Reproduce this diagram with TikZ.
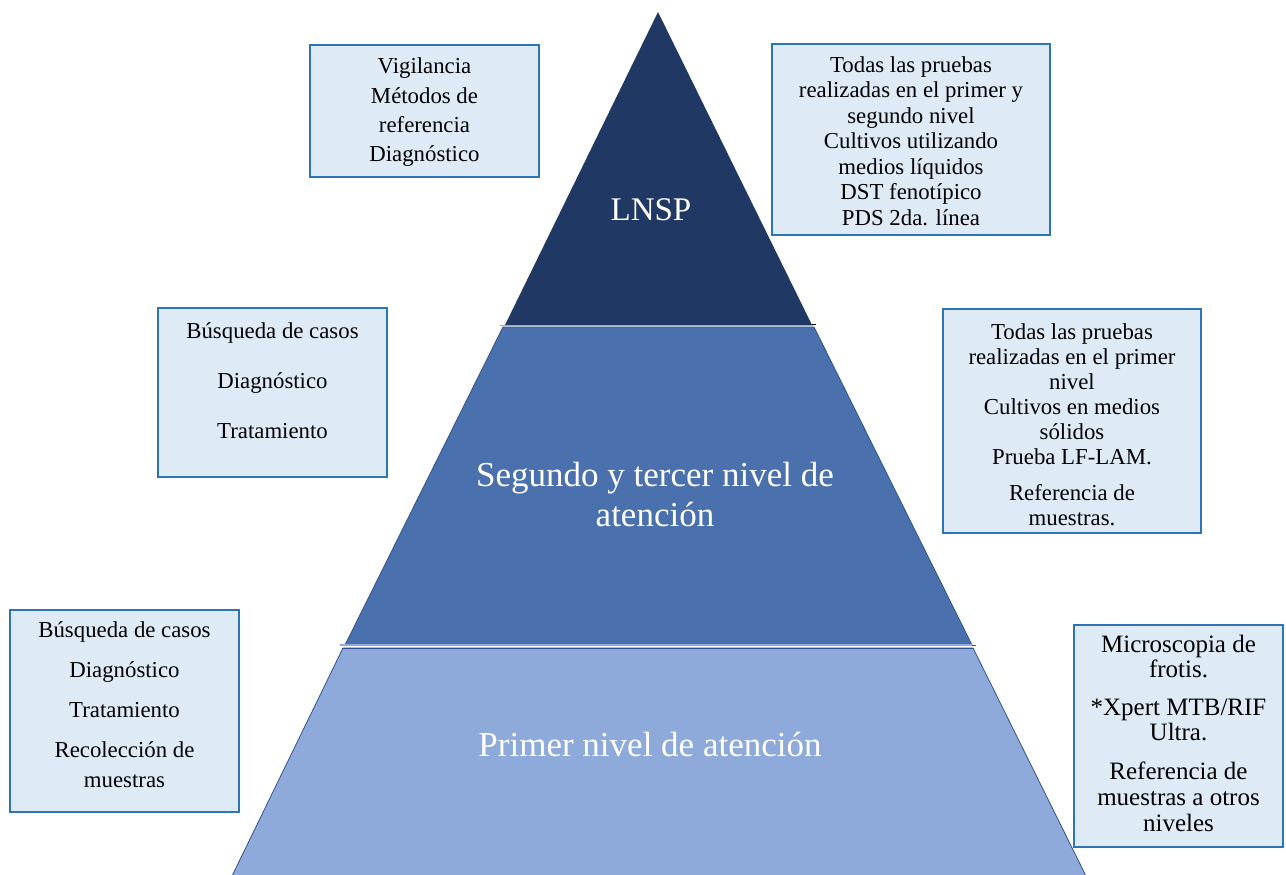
\documentclass[tikz,border=0pt]{standalone}
\usepackage{fontspec}
\setmainfont{Liberation Serif}
\definecolor{tierA}{HTML}{203864}
\definecolor{tierB}{HTML}{4A70AE}
\definecolor{tierC}{HTML}{8EAADB}
\definecolor{tierline}{HTML}{2F528F}
\definecolor{lightline}{HTML}{8FAADC}
\definecolor{boxfill}{HTML}{DEEBF7}
\definecolor{boxdraw}{HTML}{2E75B6}
\tikzset{
  infobox/.style={draw=boxdraw, fill=boxfill, line width=1.6pt},
  txt/.style={anchor=base, inner sep=0pt, font=\fontsize{22.8}{25}\selectfont},
  txtb/.style={anchor=base, inner sep=0pt, font=\fontsize{25}{26}\selectfont},
  tierlabel/.style={anchor=base, inner sep=0pt, text=white, font=\fontsize{35}{38}\selectfont},
}
\begin{document}
\begin{tikzpicture}[x=1pt,y=-1pt]
\useasboundingbox (0,0) rectangle (1286,875);
\fill[white] (0,0) rectangle (1286,875);
% pyramid tiers
\coordinate (apex) at (658,12);
\coordinate (aL) at (505,325);
\coordinate (aR) at (812,325);
\coordinate (bL) at (503,327);
\coordinate (bR) at (814,327);
\coordinate (bLL) at (345,645);
\coordinate (bRR) at (972,645);
\coordinate (cL) at (343,648);
\coordinate (cR) at (973,648);
\coordinate (cLL) at (232,876);
\coordinate (cRR) at (1086,876);
\fill[tierC, draw=tierline, line width=0.8pt] (cL) -- (cR) -- (cRR) -- (cLL) -- cycle;
\fill[tierB, draw=tierline, line width=0.8pt] (bL) -- (bR) -- (bRR) -- (bLL) -- cycle;
\fill[tierA] (apex) -- (aR) -- (aL) -- cycle;
% separators
\draw[lightline, line width=1.6pt] (500,325.5) -- (813,325.5);
\draw[black, line width=0.8pt] (812,324.5) -- (816,324.5);
\draw[lightline, line width=1.5pt] (340,645) -- (972,645);
\draw[tierline, line width=1.6pt] (342,648.5) -- (973,648.5);
\draw[tierline, line width=0.8pt] (972,645) -- (976,645);
% tier labels
\node[tierlabel, font=\fontsize{33}{38}\selectfont] (lnsp) at (651,220) {LNSP};
\node[tierlabel] (seg1) at (655,486) {Segundo y tercer nivel de};
\node[tierlabel] (seg2) at (655,526) {atención};
\node[tierlabel] (prim) at (650,756) {Primer nivel de atención};
% box 1
\draw[infobox] (310,45) rectangle (539,177);
\node[txt] (b1a) at (424.5,74) {Vigilancia};
\node[txt] (b1b) at (424.5,103) {Métodos de};
\node[txt] (b1c) at (424.5,132) {referencia};
\node[txt] (b1d) at (424.5,161) {Diagnóstico};
% box 2
\draw[infobox] (772,44) rectangle (1050,235);
\node[txt] (b2a) at (911,73) {Todas las pruebas};
\node[txt] (b2b) at (911,98) {realizadas en el primer y};
\node[txt] (b2c) at (911,123) {segundo nivel};
\node[txt] (b2d) at (911,148.5) {Cultivos utilizando};
\node[txt] (b2e) at (911,174) {medios líquidos};
\node[txt] (b2f) at (911,199.5) {DST fenotípico};
\node[txt] (b2g) at (911,225) {PDS 2da. línea};
% box 3
\draw[infobox] (158,308) rectangle (387,477);
\node[txt] (b3a) at (272.5,338) {Búsqueda de casos};
\node[txt] (b3b) at (272.5,388) {Diagnóstico};
\node[txt] (b3c) at (272.5,438) {Tratamiento};
% box 4
\draw[infobox] (943,309) rectangle (1201,533);
\node[txt] (b4a) at (1072,339) {Todas las pruebas};
\node[txt] (b4b) at (1072,364) {realizadas en el primer};
\node[txt] (b4c) at (1072,389) {nivel};
\node[txt] (b4d) at (1072,414) {Cultivos en medios};
\node[txt] (b4e) at (1072,439) {sólidos};
\node[txt] (b4f) at (1072,464) {Prueba LF-LAM.};
\node[txt] (b4g) at (1072,500) {Referencia de};
\node[txt] (b4h) at (1072,525) {muestras.};
% box 5
\draw[infobox] (10,610) rectangle (239,812);
\node[txt] (b5a) at (124.5,637) {Búsqueda de casos};
\node[txt] (b5b) at (124.5,677) {Diagnóstico};
\node[txt] (b5c) at (124.5,717) {Tratamiento};
\node[txt] (b5d) at (124.5,757) {Recolección de};
\node[txt] (b5e) at (124.5,787) {muestras};
% box 6
\draw[infobox] (1074,625) rectangle (1283,847);
\node[txtb] (b6a) at (1178.5,652) {Microscopia de};
\node[txtb] (b6b) at (1178.5,677) {frotis.};
\node[txtb] (b6c) at (1178.5,715) {*Xpert MTB/RIF};
\node[txtb] (b6d) at (1178.5,740) {Ultra.};
\node[txtb] (b6e) at (1178.5,779) {Referencia de};
\node[txtb] (b6f) at (1178.5,805) {muestras a otros};
\node[txtb] (b6g) at (1178.5,831) {niveles};
\end{tikzpicture}
\end{document}
